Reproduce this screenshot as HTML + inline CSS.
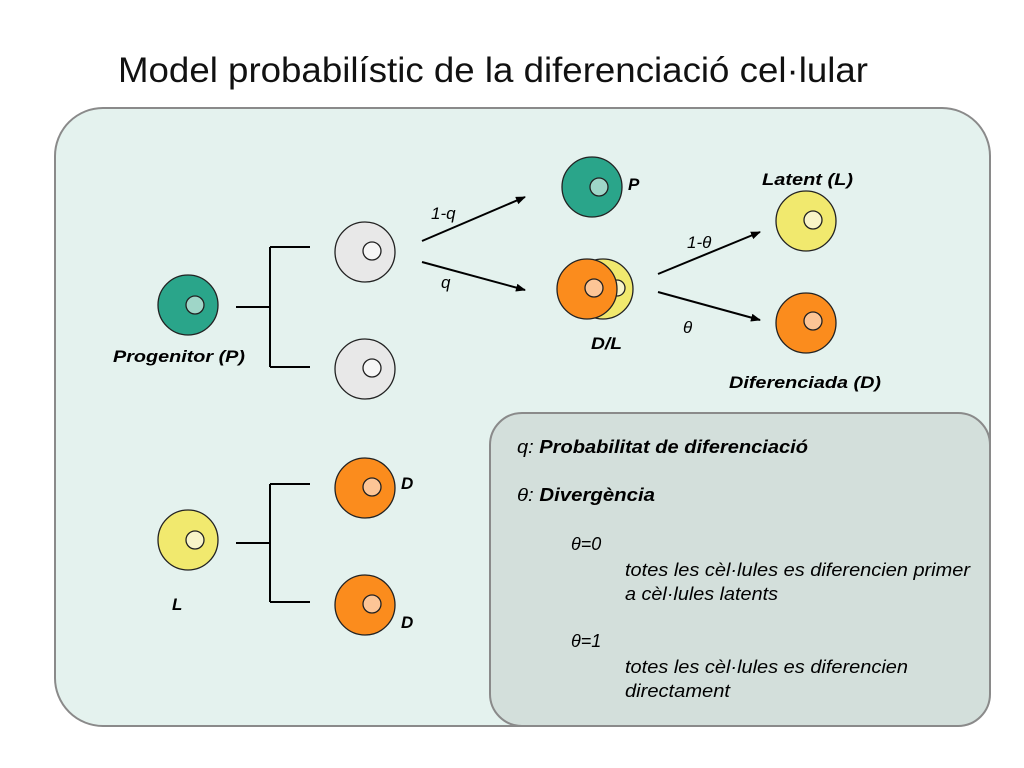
<!DOCTYPE html>
<html><head><meta charset="utf-8"><style>
html,body{margin:0;padding:0;background:#fff;}
svg{display:block}
text{font-family:"Liberation Sans",sans-serif;}
.b{font-weight:bold;font-style:italic;font-size:17px;}
.i{font-style:italic;font-size:17px;}
.t{font-style:italic;font-size:18px;}
</style></head><body>
<svg width="1024" height="768" viewBox="0 0 1024 768">
<defs><marker id="a" markerWidth="10" markerHeight="8" refX="9" refY="4" orient="auto" markerUnits="userSpaceOnUse"><path d="M0,0 L10,4 L0,8 z" fill="#000"/></marker></defs>
<text x="118" y="82" font-size="35" fill="#111" textLength="750" lengthAdjust="spacingAndGlyphs">Model probabilístic de la diferenciació cel·lular</text>
<rect x="55" y="108" width="935" height="618" rx="48" fill="#e4f2ee" stroke="#8a8a8a" stroke-width="2"/>
<rect x="490" y="413" width="500" height="313" rx="32" fill="#d3dfdb" stroke="#8a8a8a" stroke-width="2"/>
<g stroke="#000" stroke-width="2" fill="none">
<path d="M236,307 H270 M270,247 V367 M270,247 H310 M270,367 H310"/>
<path d="M236,543 H270 M270,484 V602 M270,484 H310 M270,602 H310"/>
</g>
<g stroke="#000" stroke-width="2" marker-end="url(#a)">
<line x1="422" y1="241" x2="525" y2="197"/>
<line x1="422" y1="262" x2="525" y2="290"/>
<line x1="658" y1="274" x2="760" y2="232"/>
<line x1="658" y1="292" x2="760" y2="320"/>
</g>
<g stroke="#222" stroke-width="1.3">
<circle cx="188" cy="305" r="30" fill="#2aa58a"/><circle cx="195" cy="305" r="9" fill="#9fd6c8"/>
<circle cx="365" cy="252" r="30" fill="#e8e8e8"/><circle cx="372" cy="251" r="9" fill="#f6f6f6"/>
<circle cx="365" cy="369" r="30" fill="#e8e8e8"/><circle cx="372" cy="368" r="9" fill="#f6f6f6"/>
<circle cx="592" cy="187" r="30" fill="#2aa58a"/><circle cx="599" cy="187" r="9" fill="#9fd6c8"/>
<circle cx="603" cy="289" r="30" fill="#f1e96e"/><circle cx="617" cy="288" r="8" fill="#f8f4c8"/>
<circle cx="587" cy="289" r="30" fill="#fb8c1d"/><circle cx="594" cy="288" r="9" fill="#fcc596"/>
<circle cx="806" cy="221" r="30" fill="#f1e96e"/><circle cx="813" cy="220" r="9" fill="#f8f4c8"/>
<circle cx="806" cy="323" r="30" fill="#fb8c1d"/><circle cx="813" cy="321" r="9" fill="#fcc596"/>
<circle cx="365" cy="488" r="30" fill="#fb8c1d"/><circle cx="372" cy="487" r="9" fill="#fcc596"/>
<circle cx="365" cy="605" r="30" fill="#fb8c1d"/><circle cx="372" cy="604" r="9" fill="#fcc596"/>
<circle cx="188" cy="540" r="30" fill="#f1e96e"/><circle cx="195" cy="540" r="9" fill="#f8f4c8"/>
</g>
<text class="b" x="113" y="362" textLength="132" lengthAdjust="spacingAndGlyphs">Progenitor (P)</text>
<text class="b" x="628" y="190">P</text>
<text class="b" x="591" y="349" textLength="31" lengthAdjust="spacingAndGlyphs">D/L</text>
<text class="b" x="762" y="185" textLength="91" lengthAdjust="spacingAndGlyphs">Latent (L)</text>
<text class="b" x="729" y="388" textLength="152" lengthAdjust="spacingAndGlyphs">Diferenciada (D)</text>
<text class="b" x="401" y="489">D</text>
<text class="b" x="401" y="628">D</text>
<text class="b" x="172" y="610">L</text>
<text class="i" x="431" y="219">1-q</text>
<text class="i" x="441" y="288">q</text>
<text class="i" x="687" y="248">1-θ</text>
<text class="i" x="683" y="333">θ</text>
<text class="t" x="517" y="453" textLength="291" lengthAdjust="spacingAndGlyphs">q: <tspan font-weight="bold">Probabilitat de diferenciació</tspan></text>
<text class="t" x="517" y="501" textLength="138" lengthAdjust="spacingAndGlyphs">θ: <tspan font-weight="bold">Divergència</tspan></text>
<text class="t" x="571" y="550">θ=0</text>
<text class="t" x="625" y="576" textLength="345" lengthAdjust="spacingAndGlyphs">totes les cèl·lules es diferencien primer</text>
<text class="t" x="625" y="600" textLength="153" lengthAdjust="spacingAndGlyphs">a cèl·lules latents</text>
<text class="t" x="571" y="647">θ=1</text>
<text class="t" x="625" y="673" textLength="283" lengthAdjust="spacingAndGlyphs">totes les cèl·lules es diferencien</text>
<text class="t" x="625" y="697" textLength="105" lengthAdjust="spacingAndGlyphs">directament</text>
</svg>
</body></html>
